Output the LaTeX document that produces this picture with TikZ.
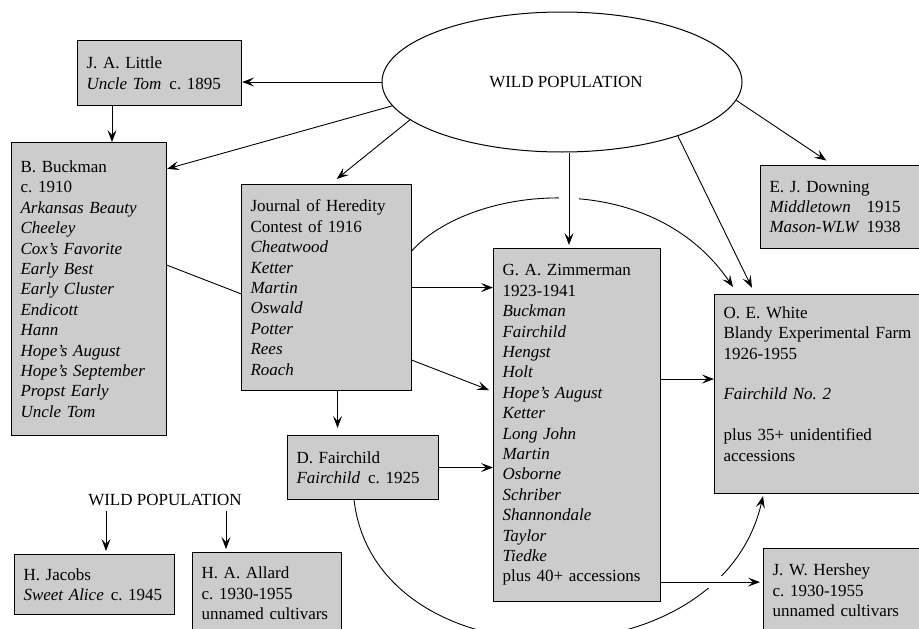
\documentclass[tikz,border=0pt]{standalone}
\usepackage{fontspec}
\setmainfont{Liberation Serif}
\frenchspacing
\usetikzlibrary{shapes,shapes.geometric}
\usetikzlibrary{arrows.meta}
\usetikzlibrary{positioning}
\begin{document}
\begin{tikzpicture}[x=1pt,y=-1pt]
\tikzset{breeder/.style={draw,line width=1.1pt,fill=gray!40,anchor=north west,align=left,inner xsep=9pt,inner ysep=0pt,font=\fontsize{17pt}{20.4pt}\selectfont},
arr/.style={line width=0.9pt,-{Stealth[length=12pt,width=9pt,inset=5pt]}},
link/.style={line width=0.9pt}}
\useasboundingbox (0,0) rectangle (919,629);
\clip (0,0) rectangle (919,629);
\node[ellipse,draw,line width=1pt,minimum width=360pt,minimum height=140pt,inner sep=0pt,font=\fontsize{17pt}{20.4pt}\selectfont](wild) at (562,82) {\hspace{8pt}WILD POPULATION};
\node[breeder,text width=146pt,minimum height=65pt](little) at (77,40) {J. A. Little\\ \mbox{\textit{Uncle Tom}\hspace{8pt}c. 1895}};
\node[breeder,text width=137pt,minimum height=293pt](buckman) at (11,142) {B. Buckman\\ c. 1910\\ \textit{Arkansas Beauty}\\ \textit{Cheeley}\\ \textit{Cox's Favorite}\\ \textit{Early Best}\\ \textit{Early Cluster}\\ \textit{Endicott}\\ \textit{Hann}\\ \textit{Hope's August}\\ \textit{Hope's September}\\ \textit{Propst Early}\\ \textit{Uncle Tom}};
\node[breeder,text width=149pt,minimum height=353pt](zimmerman) at (493,248) {G. A. Zimmerman\\ 1923-1941\\ \textit{Buckman}\\ \textit{Fairchild}\\ \textit{Hengst}\\ \textit{Holt}\\ \textit{Hope's August}\\ \textit{Ketter}\\ \textit{Long John}\\ \textit{Martin}\\ \textit{Osborne}\\ \textit{Schriber}\\ \textit{Shannondale}\\ \textit{Taylor}\\ \textit{Tiedke}\\ plus 40+ accessions};
% line runs behind the journal box
\draw[arr] (buckman.17) -- ([shift={(-4pt,35pt)}]zimmerman.west);
\node[breeder,text width=152pt,minimum height=206pt](journal) at (241,184) {Journal of Heredity\\ Contest of 1916\\ \textit{Cheatwood}\\ \textit{Ketter}\\ \textit{Martin}\\ \textit{Oswald}\\ \textit{Potter}\\ \textit{Rees}\\ \textit{Roach}};
\node[breeder,text width=133pt,minimum height=64pt](fairchild) at (287,435) {D. Fairchild\\ \mbox{\textit{Fairchild}\hspace{8pt}c. 1925}};
\node[breeder,text width=152pt,minimum height=83pt](downing) at (760,165) {E. J. Downing\\ \makebox[97pt][l]{\textit{Middletown}}1915\\ \makebox[97pt][l]{\textit{Mason-WLW}}1938};
\node[breeder,text width=197pt,minimum height=199pt](oewhite) at (714,294) {O. E. White\\ Blandy Experimental Farm\\ 1926-1955\\ \mbox{}\\ \textit{Fairchild No. 2}\\ \mbox{}\\ plus 35+ unidentified\\ accessions\\ \mbox{}};
\node[breeder,text width=152pt,minimum height=84pt](hershey) at (763,548) {J. W. Hershey\\ c. 1930-1955\\ unnamed cultivars};
\node[breeder,text width=142pt,minimum height=60pt](jacobs) at (14,554) {H. Jacobs\\ \mbox{\textit{Sweet Alice}\hspace{7pt}c. 1945}};
\node[breeder,text width=131pt,minimum height=82pt](allard) at (192,552) {H. A. Allard\\ c. 1930-1955\\ unnamed cultivars};
\node[inner sep=2pt,font=\fontsize{17pt}{20.4pt}\selectfont](wildsmall) at (165,500) {WILD POPULATION};

\draw[arr] (wild.west) -- (wild.west -| little.east);
\draw[arr] ([xshift=35pt]little.south west) -- ([xshift=35pt]little.south west |- buckman.north);
\draw[arr] (wild.188) -- (buckman.57);
\draw[arr,shorten >=8pt] (wild.194) -- ([xshift=4pt]journal.north);
\draw[arr,shorten >=7pt] (wild.335) -- ([xshift=41pt]oewhite.north west);
\draw[arr,shorten >=8pt] (wild.354) -- ([xshift=73pt]downing.north west);
\draw[arr] (journal.east) -- (journal.east -| zimmerman.west);
\draw[arr,shorten >=7pt] ([xshift=11pt]journal.south) -- ([xshift=11pt]journal.south |- fairchild.north);
\draw[arr] (fairchild.east) -- (fairchild.east -| zimmerman.west);
\draw[arr] ([yshift=15pt]oewhite.west -| zimmerman.east) -- ([yshift=15pt]oewhite.west);
% the two long bends
\draw[arr] ([yshift=37pt]journal.east) .. controls +(59,-65) and +(-83,-122) .. ([shift={(19pt,7pt)}]oewhite.north west);
\draw[arr] ([xshift=-9pt]fairchild.south) .. controls +(22,186) and +(-43,190) .. ([shift={(49pt,-2pt)}]oewhite.south west);
\draw[arr,shorten >=3pt,preaction={draw=white,line width=20pt,-,shorten <=30pt,shorten >=30pt}] ([xshift=7pt]wild.south) -- ([xshift=7pt]wild.south |- zimmerman.north);
\draw[arr,shorten >=3pt,preaction={draw=white,line width=12pt,-,shorten <=45pt,shorten >=25pt}] ([yshift=20pt]zimmerman.south east) -- ([yshift=20pt]zimmerman.south east -| hershey.west);
\draw[arr,shorten <=3pt,shorten >=3pt] ([xshift=-59pt]wildsmall.south) -- ([xshift=-59pt]wildsmall.south |- jacobs.north);
\draw[arr,shorten <=3pt,shorten >=3pt] ([xshift=61pt]wildsmall.south) -- ([xshift=61pt]wildsmall.south |- allard.north);
\end{tikzpicture}
\end{document}
